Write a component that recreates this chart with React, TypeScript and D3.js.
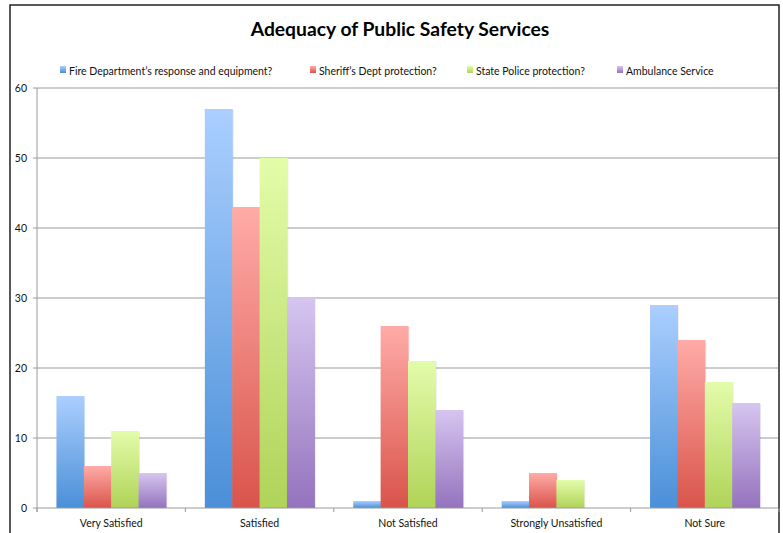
import React from "react";
import * as d3 from "d3";

const categories = ["Very Satisfied", "Satisfied", "Not Satisfied", "Strongly Unsatisfied", "Not Sure"];
const seriesNames = [
  "Fire Department\u2019s response and equipment?",
  "Sheriff\u2019s Dept protection?",
  "State Police protection?",
  "Ambulance Service",
];
const fireValues = [16, 57, 1, 1, 29];
const sheriffValues = [6, 43, 26, 5, 24];
const stateValues = [11, 50, 21, 4, 18];
const ambulanceValues = [5, 30, 14, 0, 15];
const yTicks = [0, 10, 20, 30, 40, 50, 60];

const seriesValues = [fireValues, sheriffValues, stateValues, ambulanceValues];
const gradients = [
  ["#abcfff", "#4a8fd8"],
  ["#ffaba7", "#d9544b"],
  ["#e3fcaa", "#b0d358"],
  ["#d6c5f0", "#9473bd"],
];
const legendX = [60, 310, 467, 617];

export default function App() {
  const W = 783, H = 533;
  const left = 37, right = 779, top = 88, bottom = 508;
  const font = "Lato, 'Open Sans', sans-serif";
  const x = d3.scaleBand<string>().domain(categories).range([left, right]).paddingInner(0.262).paddingOuter(0.131);
  const xs = d3.scaleBand<number>().domain([0, 1, 2, 3]).range([0, x.bandwidth()]);
  const y = d3.scaleLinear().domain([0, 60]).range([bottom, top]);
  const step = (right - left) / categories.length;

  return (
    <svg width={W} height={H} style={{ position: "absolute", left: 0, top: 0, background: "#fff" }} fontFamily={font}>
      <defs>
        {gradients.map((g, i) => (
          <linearGradient key={i} id={`g${i}`} x1="0" y1="0" x2="0" y2="1">
            <stop offset="0%" stopColor={g[0]} />
            <stop offset="100%" stopColor={g[1]} />
          </linearGradient>
        ))}
      </defs>
      <rect x={0} y={0} width={W} height={H} fill="#fff" />
      <rect x={10} y={5} width={769} height={540} fill="none" stroke="#222" strokeWidth={1.5} />
      <text x={400} y={36} textAnchor="middle" fontSize={19.3} fontWeight="bold" fill="#000">
        Adequacy of Public Safety Services
      </text>
      {seriesNames.map((n, i) => (
        <g key={n}>
          <rect x={legendX[i]} y={66} width={6} height={7} fill={`url(#g${i})`} />
          <text x={legendX[i] + 9} y={74.5} fontSize={10.5} fill="#111">{n}</text>
        </g>
      ))}
      {yTicks.map((t) => (
        <g key={t}>
          {t > 0 && <line x1={left} x2={right - 1} y1={y(t)} y2={y(t)} stroke="#9a9a9a" strokeWidth={1} />}
          <line x1={left - 4} x2={left} y1={y(t)} y2={y(t)} stroke="#9a9a9a" />
          <text x={27} y={y(t) + 3.5} textAnchor="end" fontSize={10.5} fill="#111">{t}</text>
        </g>
      ))}
      {categories.map((c, ci) =>
        seriesValues.map((vals, si) => {
          const v = vals[ci];
          if (v <= 0) return null;
          const bx = (x(c) as number) + (xs(si) as number);
          return (
            <g key={c + si}>
              <rect x={bx + 1.5} y={y(v) + 1} width={xs.bandwidth()} height={bottom - y(v) - 1} fill="#000" opacity={0.07} />
              <rect x={bx} y={y(v)} width={xs.bandwidth() + 0.6} height={bottom - y(v)} fill={`url(#g${si})`} />
            </g>
          );
        })
      )}
      <line x1={left} x2={left} y1={top} y2={bottom + 4} stroke="#9a9a9a" />
      <line x1={left} x2={right - 1} y1={bottom} y2={bottom} stroke="#9a9a9a" />
      {d3.range(categories.length + 1).map((i) => (
        <line key={i} x1={left + i * step} x2={left + i * step} y1={bottom} y2={bottom + 4} stroke="#9a9a9a" />
      ))}
      {categories.map((c) => (
        <text key={c} x={(x(c) as number) + x.bandwidth() / 2} y={527} textAnchor="middle" fontSize={10.5} fill="#111">{c}</text>
      ))}
    </svg>
  );
}
